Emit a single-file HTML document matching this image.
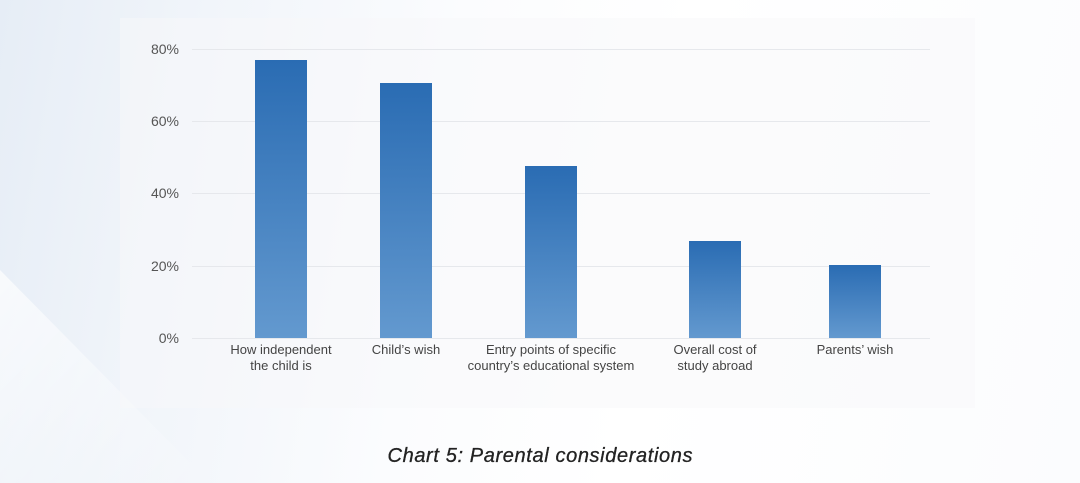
<!DOCTYPE html>
<html><head><style>
body{margin:0;width:1080px;height:483px;overflow:hidden;font-family:"Liberation Sans",sans-serif;
background:linear-gradient(100deg,#e6edf6 0%,#f1f5fa 18%,#fbfcfe 40%,#ffffff 60%,#fbfcfe 100%);}
</style></head><body>
<svg width="1080" height="483" xmlns="http://www.w3.org/2000/svg" style="position:absolute;left:0;top:0">
<defs>
<linearGradient id="b" x1="0" y1="0" x2="0" y2="1"><stop offset="0" stop-color="#2a6cb3"/><stop offset="1" stop-color="#6399cf"/></linearGradient>
<linearGradient id="w" x1="0" y1="0" x2="1" y2="1"><stop offset="0" stop-color="#ffffff" stop-opacity="0.7"/><stop offset="1" stop-color="#ffffff" stop-opacity="0"/></linearGradient>
</defs>
<polygon points="0,270 0,483 210,483" fill="url(#w)"/>
<rect x="120" y="18" width="855" height="390" fill="#f7f8fa" opacity="0.5"/>
<g stroke="#e6e8ec" stroke-width="1">
<line x1="192" y1="49.5" x2="930" y2="49.5"/>
<line x1="192" y1="121.5" x2="930" y2="121.5"/>
<line x1="192" y1="193.5" x2="930" y2="193.5"/>
<line x1="192" y1="266.5" x2="930" y2="266.5"/>
<line x1="192" y1="338.5" x2="930" y2="338.5"/>
</g>
<g font-size="14" fill="#555" text-anchor="end">
<text x="179" y="54">80%</text><text x="179" y="126">60%</text><text x="179" y="198">40%</text><text x="179" y="271">20%</text><text x="179" y="343">0%</text>
</g>
<rect x="255" y="60" width="52" height="278" fill="url(#b)"/>
<rect x="380" y="83" width="52" height="255" fill="url(#b)"/>
<rect x="525" y="166" width="52" height="172" fill="url(#b)"/>
<rect x="689" y="241" width="52" height="97" fill="url(#b)"/>
<rect x="829" y="265" width="52" height="73" fill="url(#b)"/>
<g font-size="13" fill="#444" text-anchor="middle">
<text x="281" y="354">How independent</text><text x="281" y="370">the child is</text>
<text x="406" y="354">Child’s wish</text>
<text x="551" y="354">Entry points of specific</text><text x="551" y="370">country’s educational system</text>
<text x="715" y="354">Overall cost of</text><text x="715" y="370">study abroad</text>
<text x="855" y="354">Parents’ wish</text>
</g>
<text x="540" y="462" font-size="20" font-style="italic" fill="#222" text-anchor="middle" textLength="305" stroke="#222" stroke-width="0.3">Chart 5: Parental considerations</text>
</svg>
</body></html>
